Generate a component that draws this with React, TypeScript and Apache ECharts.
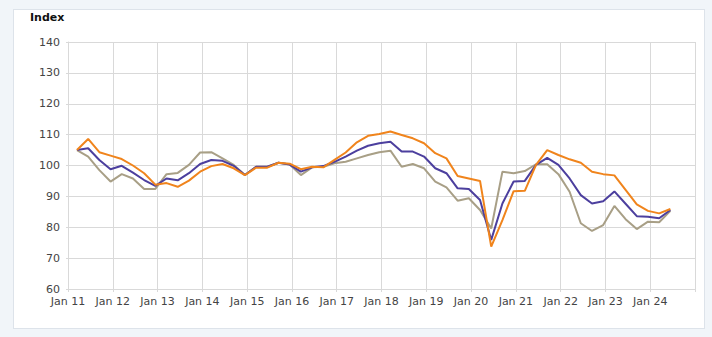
import React, { useEffect, useRef } from "react";
import * as echarts from "echarts";

const startYear = 2011;
const endYear = 2025;
// quarterly observations from 2011 Q1 to 2024 Q2
const quarterOffset = 0.8;

const seriesOrange = [
  105.0, 108.6, 104.3, 103.2, 102.1, 100.0, 97.5, 93.8, 94.3, 93.1,
  95.1, 98.0, 99.8, 100.5, 99.1, 96.9, 99.3, 99.3, 100.9, 100.6,
  98.8, 99.6, 99.4, 101.8, 104.2, 107.5, 109.6, 110.2, 111.0, 109.9,
  108.8, 107.2, 104.0, 102.3, 96.6, 95.8, 95.0, 73.7, 82.3, 91.7,
  91.8, 100.2, 105.0, 103.4, 102.0, 100.9, 98.0, 97.2, 96.8, 92.1,
  87.4, 85.3, 84.5, 85.9,
];

const seriesPurple = [
  105.0, 105.6, 101.8, 98.8, 99.9, 97.7, 95.3, 93.4, 95.8, 95.2,
  97.5, 100.5, 101.8, 101.5, 99.9, 96.9, 99.6, 99.6, 100.9, 100.3,
  98.0, 99.4, 99.8, 101.2, 102.9, 104.8, 106.4, 107.2, 107.7, 104.5,
  104.5, 102.9, 99.1, 97.5, 92.6, 92.4, 88.8, 75.9, 87.7, 94.8,
  95.0, 100.2, 102.5, 100.2, 95.8, 90.4, 87.7, 88.4, 91.6, 87.6,
  83.6, 83.4, 82.9, 85.6,
];

const seriesTan = [
  105.0, 102.9, 98.5, 94.8, 97.2, 95.8, 92.4, 92.4, 97.2, 97.6,
  100.2, 104.2, 104.3, 102.3, 100.2, 96.9, 99.6, 99.6, 100.9, 100.3,
  96.9, 99.4, 99.6, 100.7, 101.2, 102.3, 103.4, 104.3, 104.8, 99.6,
  100.5, 99.1, 94.8, 92.9, 88.6, 89.4, 85.6, 79.6, 98.0, 97.5,
  98.2, 100.4, 100.4, 97.2, 91.5, 81.3, 78.8, 80.7, 86.9, 82.6,
  79.4, 81.8, 81.6, 85.3,
];

const yTicks = { min: 60, max: 140, step: 10 };

const toPoints = (vals: number[]) =>
  vals.map((v, i) => [startYear + (i + quarterOffset) / 4, v]);

const gridColor = "#d9d9d9";
const labelColor = "#444";
const font = "DejaVu Sans, Verdana, sans-serif";

export default function App() {
  const ref = useRef<HTMLDivElement>(null);
  useEffect(() => {
    if (!ref.current) return;
    const chart = echarts.init(ref.current, undefined, { renderer: "svg" });
    const line = (name: string, color: string, vals: number[], z: number) => ({
      name,
      type: "line",
      data: toPoints(vals),
      showSymbol: false,
      symbol: "none",
      z,
      lineStyle: { color, width: 2 },
      itemStyle: { color },
    });
    chart.setOption({
      animation: false,
      backgroundColor: "transparent",
      grid: { left: 68, top: 42, right: 17, bottom: 48, containLabel: false },
      graphic: [
        {
          type: "text",
          left: 30,
          top: 12,
          style: {
            text: "Index",
            font: `bold 11px ${font}`,
            fill: "#111",
          },
        },
      ],
      xAxis: {
        type: "value",
        min: startYear,
        max: endYear,
        interval: 1,
        axisLine: { show: true, lineStyle: { color: gridColor } },
        axisTick: { show: true, length: 3, lineStyle: { color: gridColor } },
        splitLine: { show: true, lineStyle: { color: gridColor, width: 1 } },
        axisLabel: {
          color: labelColor,
          fontSize: 11,
          fontFamily: font,
          margin: 7,
          formatter: (v: number) =>
            v < endYear ? "Jan " + String(Math.round(v)).slice(2) : "",
        },
      },
      yAxis: {
        type: "value",
        min: yTicks.min,
        max: yTicks.max,
        interval: yTicks.step,
        axisLine: { show: true, lineStyle: { color: gridColor } },
        axisTick: { show: true, length: 2, lineStyle: { color: gridColor } },
        splitLine: { show: true, lineStyle: { color: gridColor, width: 1 } },
        axisLabel: {
          color: labelColor,
          fontSize: 11,
          fontFamily: font,
          margin: 8,
        },
      },
      series: [
        line("Tan", "#a89f86", seriesTan, 2),
        line("Purple", "#4c3f9e", seriesPurple, 3),
        line("Orange", "#f0841c", seriesOrange, 4),
      ],
    });
    return () => chart.dispose();
  }, []);

  return (
    <div
      style={{
        position: "fixed",
        left: 0,
        top: 0,
        width: 712,
        height: 337,
        background: "#f1f5f9",
      }}
    >
      <div
        style={{
          position: "absolute",
          left: 13,
          top: 9,
          width: 690,
          height: 318,
          background: "#ffffff",
          border: "1px solid #dde3ea",
        }}
      />
      <div
        ref={ref}
        style={{ position: "absolute", left: 0, top: 0, width: 712, height: 337 }}
      />
    </div>
  );
}
